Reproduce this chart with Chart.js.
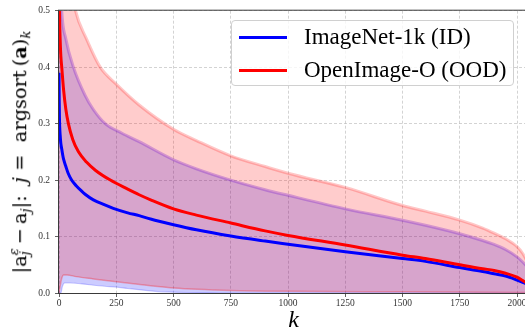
<!DOCTYPE html>
<html>
<head>
<meta charset="utf-8">
<script src="https://cdn.jsdelivr.net/npm/chart.js@4/dist/chart.umd.min.js"></script>
<style>
  html, body { margin: 0; padding: 0; background: #fff; overflow: hidden; }
  #wrap { position: relative; width: 528px; height: 335px; }
  #chart { position: absolute; left: 0; top: 0; }
  .serif { font-family: 'Liberation Serif', 'DejaVu Serif', serif; color: #000; }
  #ylab { position: absolute; left: 19.5px; top: 151.5px; white-space: nowrap; font-size: 23px; line-height: 1.2;
          font-family: 'DejaVu Serif', serif; color: #000;
          transform: translate(-50%, -50%) rotate(-90deg); }
  #ylab .ss { display: inline-block; vertical-align: -0.22em; font-size: 0.68em; line-height: 0.85em; text-align: left; }
  #ylab .ss span { display: block; }
  #ylab .sub { font-size: 0.68em; vertical-align: -0.3em; line-height: 0; }
  #legend { position: absolute; left: 231px; top: 20px; width: 283px; height: 66px; border: 1px solid #d0d0d0;
            border-radius: 4px; background: rgba(255,255,255,0.8); box-sizing: border-box; }
  .li { position: absolute; left: 0; height: 30px; font-size: 23px; line-height: 30px; white-space: nowrap; }
  .li .sw { position: absolute; left: 7px; width: 48px; height: 2.5px; top: 14.5px; }
  .li .tx { position: absolute; left: 72px; top: 0; }
</style>
</head>
<body>
<div id="wrap">
  <canvas id="chart" width="528" height="335"></canvas>
  <div id="ylab">|a<span class="ss"><span><i>ε</i></span><span><i>j</i></span></span>&thinsp;−&thinsp;a<span class="sub"><i>j</i></span>|:&nbsp; <i>j</i> = &nbsp;argsort&thinsp;(<b>a</b>)<span class="sub"><i>k</i></span></div>
  <div id="legend" class="serif"></div>
</div>
<script>
// ---- data ----
const xTicks = [0, 250, 500, 750, 1000, 1250, 1500, 1750, 2000];
const yTicks = [0.0, 0.1, 0.2, 0.3, 0.4, 0.5];
const seriesNames = ['ImageNet-1k (ID)', 'OpenImage-O (OOD)'];

// ID (ImageNet-1k) mean curve
const idMeanK = [0,1,2,3,5,8,12,16,20,30,40,55,75,100,114,150,200,237,300,350,400,500,600,750,900,1000,1250,1500,1600,1750,1850,1900,1950,2000,2025,2048];
const idMeanV = [0.39,0.34,0.31,0.295,0.28,0.265,0.255,0.245,0.237,0.224,0.212,0.2,0.19,0.18,0.175,0.165,0.156,0.15,0.142,0.137,0.131,0.121,0.112,0.101,0.092,0.0865,0.073,0.061,0.056,0.045,0.038,0.034,0.03,0.023,0.019,0.015];
// ID band (upper / lower)
const idUpperK = [0,5,12,30,63,114,150,202,275,350,500,600,750,900,1000,1250,1500,1600,1750,1850,1900,1950,2000,2025,2048];
const idUpperV = [0.75,0.58,0.5,0.45,0.4,0.35,0.325,0.3,0.283,0.268,0.236,0.22,0.2,0.183,0.173,0.149,0.129,0.12,0.105,0.093,0.086,0.077,0.064,0.055,0.045];
const idLowerK = [0,8,15,25,50,100,200,250,300,420,500,600,700,2048];
const idLowerV = [0,0,0.012,0.018,0.018,0.016,0.012,0.0105,0.008,0.003,0.0015,0.0005,0,0];

// OOD (OpenImage-O) mean curve
const oodMeanK = [0,2,5,8,12,20,30,41,60,85,120,160,224,300,350,400,500,600,750,900,1000,1250,1500,1600,1750,1850,1900,1950,2000,2025,2048];
const oodMeanV = [0.58,0.5,0.45,0.42,0.4,0.36,0.325,0.3,0.272,0.25,0.232,0.217,0.2,0.184,0.174,0.165,0.149,0.138,0.124,0.11,0.102,0.085,0.067,0.061,0.05,0.043,0.04,0.035,0.028,0.022,0.016];
// OOD band (upper / lower)
const oodUpperK = [0,30,72,120,180,250,350,500,600,750,900,1000,1250,1500,1600,1750,1850,1900,1950,2000,2025,2048];
const oodUpperV = [0.8,0.6,0.5,0.45,0.4,0.37,0.333,0.29,0.27,0.243,0.224,0.212,0.187,0.155,0.145,0.129,0.115,0.106,0.096,0.082,0.07,0.053];
const oodLowerK = [0,5,12,20,35,75,150,250,400,500,750,1000,1500,2048];
const oodLowerV = [0,0.012,0.026,0.032,0.032,0.029,0.025,0.02,0.013,0.009,0.0046,0.003,0.002,0.001];

const pts = (ks, vs) => ks.map((k, i) => ({ x: k, y: vs[i] }));

const SERIF = "'Liberation Serif', 'DejaVu Serif', serif";
Chart.defaults.font.family = SERIF;

const frame = {
  id: 'frame',
  afterDatasetsDraw(chart) {
    const a = chart.chartArea, c = chart.ctx;
    c.save();
    c.strokeStyle = '#3a3a3a';
    c.lineWidth = 1;
    c.strokeRect(a.left - 0.5, a.top - 0.5, a.right - a.left + 1, a.bottom - a.top + 1);
    c.restore();
  }
};

const base = { pointRadius: 0, pointHoverRadius: 0, cubicInterpolationMode: 'monotone', parsing: false };

const chart = new Chart(document.getElementById('chart'), {
  type: 'line',
  data: {
    datasets: [
      Object.assign({ label: 'idLower', data: pts(idLowerK, idLowerV), fill: false, borderColor: 'rgba(0,0,255,0.2)', borderWidth: 1.2, order: 8 }, base),
      Object.assign({ label: 'idUpper', data: pts(idUpperK, idUpperV), fill: '-1', backgroundColor: 'rgba(0,0,255,0.2)', borderColor: 'rgba(70,0,255,0.28)', borderWidth: 3, order: 7 }, base),
      Object.assign({ label: 'oodLower', data: pts(oodLowerK, oodLowerV), fill: false, borderColor: 'rgba(255,0,0,0.28)', borderWidth: 1.5, order: 6 }, base),
      Object.assign({ label: 'oodUpper', data: pts(oodUpperK, oodUpperV), fill: '-1', backgroundColor: 'rgba(255,0,0,0.2)', borderColor: 'rgba(255,0,0,0.22)', borderWidth: 3, order: 5 }, base),
      Object.assign({ label: seriesNames[0], data: pts(idMeanK, idMeanV), fill: false, borderColor: '#0000ff', borderWidth: 3, order: 2 }, base),
      Object.assign({ label: seriesNames[1], data: pts(oodMeanK, oodMeanV), fill: false, borderColor: '#ff0000', borderWidth: 3, order: 1 }, base)
    ]
  },
  options: {
    responsive: false,
    animation: false,
    devicePixelRatio: 1,
    layout: { padding: { top: 8, left: 0, right: 0, bottom: 0 } },
    plugins: { legend: { display: false }, tooltip: { enabled: false } },
    scales: {
      x: {
        type: 'linear', min: 0, max: 2048,
        afterFit(s) { s.height = 42; },
        afterBuildTicks(s) { s.ticks = xTicks.map(v => ({ value: v })); },
        ticks: { font: { size: 9.5, family: SERIF }, color: '#333', padding: 1, maxRotation: 0, includeBounds: false, callback: v => String(v) },
        grid: { color: 'rgba(176,176,176,0.7)', lineWidth: 0.8, tickColor: '#3a3a3a', tickLength: 4, tickWidth: 0.8 },
        border: { display: false, dash: [3, 2] },
        title: { display: true, text: 'k', font: { size: 24, style: 'italic', family: SERIF }, color: '#000', padding: { top: 0, bottom: 0 } }
      },
      y: {
        type: 'linear', min: 0, max: 0.5,
        afterFit(s) { s.width = 59; },
        afterBuildTicks(s) { s.ticks = yTicks.map(v => ({ value: v })); },
        ticks: { font: { size: 9.5, family: SERIF }, color: '#333', padding: 5, callback: v => Number(v).toFixed(1) },
        grid: { color: 'rgba(176,176,176,0.7)', lineWidth: 0.8, tickColor: '#3a3a3a', tickLength: 4, tickWidth: 0.8 },
        border: { display: false, dash: [3, 2] }
      }
    }
  },
  plugins: [frame]
});

// fit the y-axis label to the span it covers in the reference (243 px)
const yl = document.getElementById('ylab');
const w0 = yl.offsetWidth;
yl.style.fontSize = (23 * 243 / w0).toFixed(2) + 'px';

// legend built from the two mean-curve datasets
const leg = document.getElementById('legend');
[4, 5].forEach((di, i) => {
  const ds = chart.data.datasets[di];
  const row = document.createElement('div');
  row.className = 'li';
  row.style.top = (0.5 + i * 33) + 'px';
  row.innerHTML = '<div class="sw" style="background:' + ds.borderColor + '"></div><div class="tx"></div>';
  row.querySelector('.tx').textContent = ds.label;
  leg.appendChild(row);
});
</script>
</body>
</html>
